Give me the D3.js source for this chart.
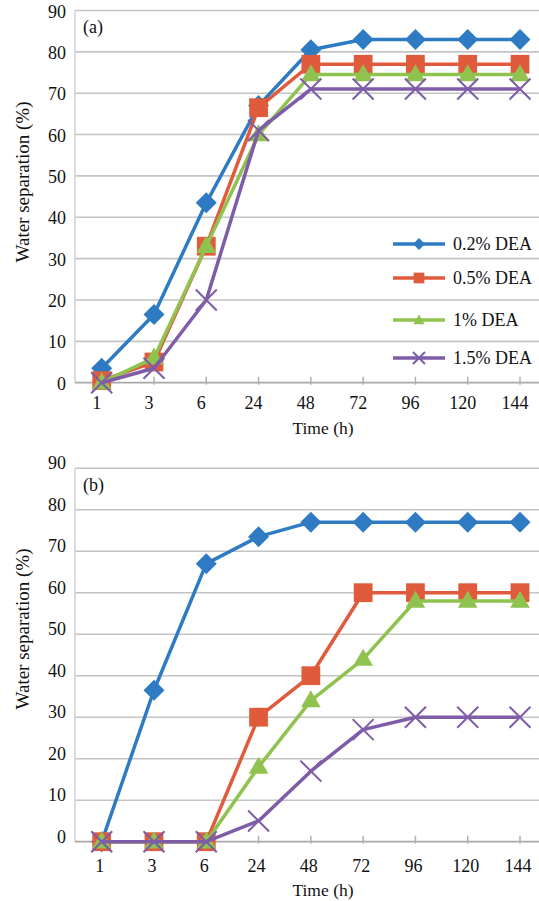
<!DOCTYPE html>
<html>
<head>
<meta charset="utf-8">
<script src="https://cdn.jsdelivr.net/npm/d3@7"></script>
<style>
  body { margin: 0; background: #fff; }
  svg text { font-family: "Liberation Serif", "Times New Roman", serif; fill: #111; }
</style>
</head>
<body>
<div id="chart"></div>
<script>
// categories & tick labels
var times = ["1", "3", "6", "24", "48", "72", "96", "120", "144"];
var seriesNames = ["0.2% DEA", "0.5% DEA", "1% DEA", "1.5% DEA"];
var yTicks = [0, 10, 20, 30, 40, 50, 60, 70, 80, 90];

// panel (a)
var a_02 = [3.5, 16.5, 43.5, 67, 80.5, 83, 83, 83, 83];
var a_05 = [0.5, 5, 33, 66.5, 77, 77, 77, 77, 77];
var a_1  = [0, 6, 33, 60, 74.5, 74.5, 74.5, 74.5, 74.5];
var a_15 = [0, 3.5, 20, 61, 71, 71, 71, 71, 71];

// panel (b)
var b_02 = [0, 36.5, 67, 73.5, 77, 77, 77, 77, 77];
var b_05 = [0, 0, 0, 30, 40, 60, 60, 60, 60];
var b_1  = [0, 0, 0, 18, 34, 44, 58, 58, 58];
var b_15 = [0, 0, 0, 5, 17, 27, 30, 30, 30];

var colors = ["#2f7bc3", "#e05b3b", "#8fc24e", "#7e5ca8"];
var shapes = ["diamond", "square", "triangle", "x"];

var width = 539, height = 901;

var svg = d3.select("#chart").append("svg")
    .attr("width", width)
    .attr("height", height);

var panels = [
  { tag: "(a)", data: [a_02, a_05, a_1, a_15], top: 10.5, bottom: 382.7, yDy: 7, xDx: -5, xLabY: 20, titleY: 45, yTitle: 182, legend: true },
  { tag: "(b)", data: [b_02, b_05, b_1, b_15], top: 468.2, bottom: 841.7, yDy: 1, xDx: -2, xLabY: 24, titleY: 48, yTitle: 629, legend: false }
];

var left = 75, right = 539;

function marker(sel, shape, color, s) {
  if (shape == "diamond") {
    sel.append("path")
      .attr("d", d3.symbol().type(d3.symbolSquare).size(s * s * 0.5))
      .attr("transform", "rotate(45)")
      .attr("fill", color);
  } else if (shape == "square") {
    sel.append("path")
      .attr("d", d3.symbol().type(d3.symbolSquare).size(s * s * 0.8))
      .attr("fill", color);
  } else if (shape == "triangle") {
    sel.append("path")
      .attr("d", d3.symbol().type(d3.symbolTriangle).size(s * s * 0.38))
      .attr("transform", "translate(0,1)")
      .attr("fill", color);
  } else {
    var h = s / 2;
    sel.append("path")
      .attr("d", "M" + (-h) + "," + (-h) + "L" + h + "," + h + "M" + (-h) + "," + h + "L" + h + "," + (-h))
      .attr("stroke", color)
      .attr("stroke-width", 2)
      .attr("fill", "none");
  }
}

panels.forEach(function (p) {
  var x = d3.scalePoint().domain(times).range([101.7, 520]);
  var y = d3.scaleLinear().domain([0, 90]).range([p.bottom, p.top]);
  var g = svg.append("g");

  // gridlines
  g.selectAll(".grid")
    .data(yTicks.filter(function (t) { return t > 0; }))
    .enter().append("line")
    .attr("x1", left).attr("x2", right)
    .attr("y1", function (d) { return y(d); })
    .attr("y2", function (d) { return y(d); })
    .attr("stroke", "#c4c4c4")
    .attr("stroke-width", 1.6);

  // left axis line
  g.append("line")
    .attr("x1", left).attr("x2", left)
    .attr("y1", p.top).attr("y2", p.bottom)
    .attr("stroke", "#d0d0d0").attr("stroke-width", 1.5);

  // bottom axis
  g.append("line")
    .attr("x1", left).attr("x2", right)
    .attr("y1", y(0)).attr("y2", y(0))
    .attr("stroke", "#a8a8a8").attr("stroke-width", 1.8);

  g.selectAll(".xtick")
    .data(times.slice(1))
    .enter().append("line")
    .attr("x1", function (d) { return x(d); })
    .attr("x2", function (d) { return x(d); })
    .attr("y1", y(0) - 6).attr("y2", y(0) + 2)
    .attr("stroke", "#b0b0b0").attr("stroke-width", 1.5);

  // y tick labels
  g.selectAll(".ylab")
    .data(yTicks)
    .enter().append("text")
    .attr("x", 66)
    .attr("y", function (d) { return y(d) + p.yDy; })
    .attr("text-anchor", "end")
    .attr("font-size", 18)
    .text(function (d) { return d; });

  // x tick labels
  g.selectAll(".xlab")
    .data(times)
    .enter().append("text")
    .attr("x", function (d) { return x(d) + p.xDx; })
    .attr("y", y(0) + p.xLabY)
    .attr("dy", "0.35em")
    .attr("text-anchor", "middle")
    .attr("font-size", 18)
    .text(function (d) { return d; });

  // axis titles
  g.append("text")
    .attr("x", 323)
    .attr("y", y(0) + p.titleY)
    .attr("dy", "0.35em")
    .attr("text-anchor", "middle")
    .attr("font-size", 17.5)
    .text("Time (h)");

  g.append("text")
    .attr("transform", "translate(22," + p.yTitle + ") rotate(-90)")
    .attr("dy", "0.35em")
    .attr("text-anchor", "middle")
    .attr("font-size", 19)
    .text("Water separation (%)");

  g.append("text")
    .attr("x", 83)
    .attr("y", p.top + 16)
    .attr("dy", "0.35em")
    .attr("font-size", 18)
    .text(p.tag);

  // series
  var line = d3.line()
    .x(function (d, i) { return x(times[i]); })
    .y(function (d) { return y(d); });

  p.data.forEach(function (vals, si) {
    var sg = g.append("g");
    sg.append("path")
      .datum(vals)
      .attr("d", line)
      .attr("fill", "none")
      .attr("stroke", colors[si])
      .attr("stroke-width", 3.5)
      .attr("stroke-linejoin", "round");

    var pts = sg.selectAll(".pt")
      .data(vals)
      .enter().append("g")
      .attr("transform", function (d, i) { return "translate(" + x(times[i]) + "," + y(d) + ")"; });
    pts.each(function () { marker(d3.select(this), shapes[si], colors[si], 21); });
  });

  // legend
  if (p.legend) {
    var rows = [244, 278, 320, 358];
    var lg = g.selectAll(".lg")
      .data(seriesNames)
      .enter().append("g")
      .attr("transform", function (d, i) { return "translate(0," + rows[i] + ")"; });
    lg.append("line")
      .attr("x1", 393).attr("x2", 445)
      .attr("stroke", function (d, i) { return colors[i]; })
      .attr("stroke-width", 3.5);
    lg.each(function (d, i) {
      var m = d3.select(this).append("g").attr("transform", "translate(419,0)");
      marker(m, shapes[i], colors[i], 12);
    });
    lg.append("text")
      .attr("x", 453)
      .attr("dy", "0.35em")
      .attr("font-size", 18)
      .text(function (d) { return d; });
  }
});
</script>
</body>
</html>
